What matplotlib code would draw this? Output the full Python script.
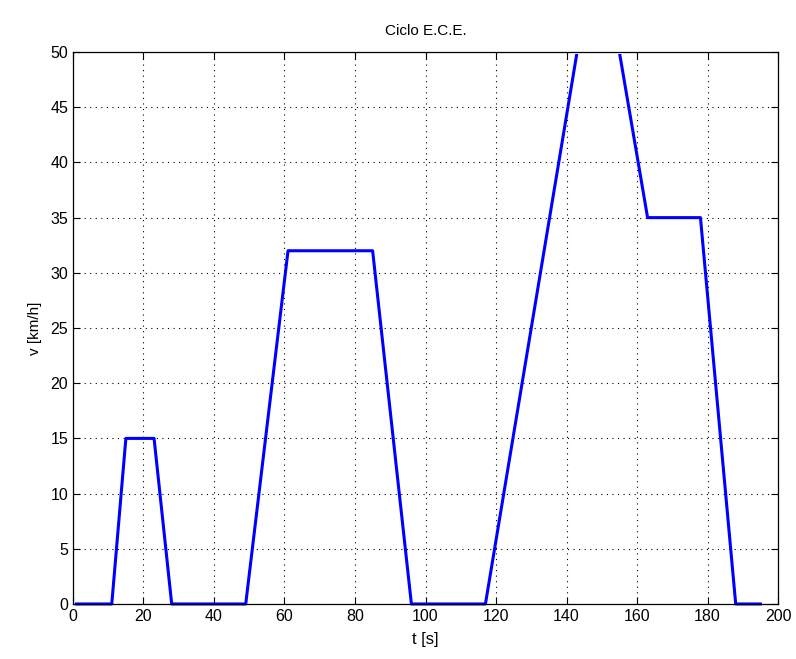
import matplotlib
matplotlib.use('Agg')
import matplotlib.pyplot as plt
from matplotlib.patches import Rectangle

# ECE cycle breakpoints (time in s, speed in km/h)
t = [1, 11, 15, 23, 28, 49, 61, 85, 96, 117, 143, 155, 163, 178, 188, 195]
v = [0, 0, 15, 15, 0, 0, 32, 32, 0, 0, 50, 50, 35, 35, 0, 0]

x_ticks = [0, 20, 40, 60, 80, 100, 120, 140, 160, 180, 200]
y_ticks = [0, 5, 10, 15, 20, 25, 30, 35, 40, 45, 50]

plt.rcParams['font.family'] = ['Liberation Sans', 'DejaVu Sans']

fig = plt.figure(figsize=(7.96, 6.59), dpi=100)
ax = fig.add_axes([0.0917, 0.0835, 0.8857, 0.8375])

line, = ax.plot(t, v, color='#0000ff', linewidth=2.2)
# hide the part running along the top edge, as in the original
clip = Rectangle((0, -0.1), 1, 1.097, transform=ax.transAxes)
line.set_clip_path(clip)

ax.set_xlim(0, 200)
ax.set_ylim(0, 50)
ax.set_xticks(x_ticks)
ax.set_yticks(y_ticks)
ax.tick_params(direction='in', top=True, right=True, length=5, labelsize=11.5, width=0.8)
ax.grid(True, color='black', linestyle=(0, (1, 4)), linewidth=0.8)
for s in ax.spines.values():
    s.set_linewidth(0.9)

ax.set_title('Ciclo E.C.E.', fontsize=11, pad=12)
ax.set_xlabel('t [s]', fontsize=12, labelpad=6)
ax.set_ylabel('v [km/h]', fontsize=11, labelpad=6)

fig.savefig('out.png', dpi=100)
